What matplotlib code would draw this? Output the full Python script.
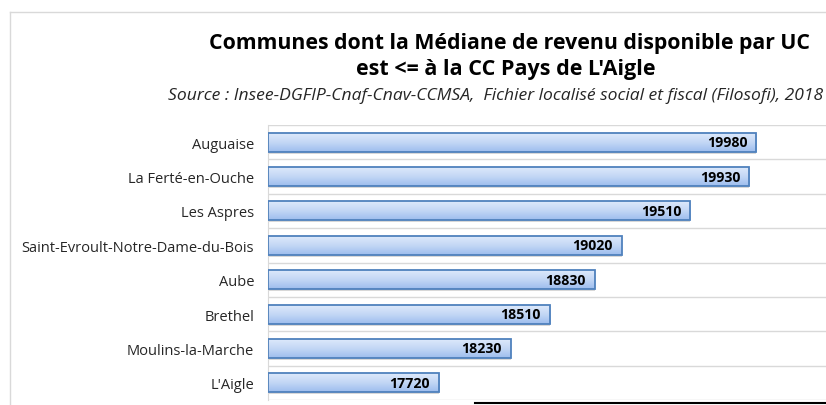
import numpy as np
import matplotlib.pyplot as plt
from matplotlib.colors import LinearSegmentedColormap

communes = ['Auguaise', 'La Ferté-en-Ouche', 'Les Aspres', 'Saint-Evroult-Notre-Dame-du-Bois',
            'Aube', 'Brethel', 'Moulins-la-Marche', "L'Aigle"]
medianes = [19980, 19930, 19510, 19020, 18830, 18510, 18230, 17720]

plt.rcParams['font.family'] = ['Open Sans', 'DejaVu Sans']

fig = plt.figure(figsize=(8.26, 4.06), dpi=100)
ax = fig.add_axes([268 / 826, 5 / 406, 1 - 268 / 826, 275 / 406])

xmin, xmax = 16500, 20477

cmap = LinearSegmentedColormap.from_list('bleu', ['#dde9fb', '#c3d7f5', '#9dbdee'])
grad = np.linspace(0, 1, 64).reshape(-1, 1)
h = 0.55

for i, (nom, val) in enumerate(zip(communes, medianes)):
    # ombre
    ax.barh(i + 0.06, val - xmin, left=xmin, height=h, color='#bfbfbf', alpha=0.6, zorder=1)
    ax.imshow(grad, cmap=cmap, aspect='auto', zorder=2,
              extent=(xmin, val, i + h / 2, i - h / 2))
    ax.barh(i, val - xmin, left=xmin, height=h, facecolor='none',
            edgecolor='#4f81bd', linewidth=1.3, zorder=3)
    ax.text(val - 65, i, str(val), ha='right', va='center', fontsize=10.2,
            fontweight='bold', color='black', zorder=4)

ax.set_xlim(xmin, xmax)
ax.set_ylim(len(communes) - 0.5, -0.5)

for y in np.arange(-0.5, len(communes), 1):
    ax.axhline(y, color='#d9d9d9', linewidth=1, zorder=0)

ax.set_yticks(range(len(communes)))
ax.set_yticklabels(communes, fontsize=10.5, color='#262626')
ax.tick_params(axis='y', length=0, pad=10)
ax.set_xticks([])
for s in ['top', 'right', 'bottom']:
    ax.spines[s].set_visible(False)
ax.spines['left'].set_color('#d9d9d9')

fig.text(0.617, 1 - 44 / 406, 'Communes dont la Médiane de revenu disponible par UC',
         ha='center', va='center', fontsize=15.3, fontweight='bold')
fig.text(0.612, 1 - 70 / 406, "est <= à la CC Pays de L'Aigle",
         ha='center', va='center', fontsize=15.5, fontweight='bold')
fig.text(823 / 826, 1 - 96 / 406,
         'Source : Insee-DGFIP-Cnaf-Cnav-CCMSA,  Fichier localisé social et fiscal (Filosofi), 2018',
         ha='right', va='center', fontsize=12.6, style='italic', color='#262626')

# cadre du graphique
fig.add_artist(plt.Line2D([10 / 826, 10 / 826], [0, 1 - 13 / 406], color='#d9d9d9', lw=1))
fig.add_artist(plt.Line2D([10 / 826, 1], [1 - 13 / 406, 1 - 13 / 406], color='#d9d9d9', lw=1))
fig.add_artist(plt.Line2D([475 / 826, 1], [2 / 406, 2 / 406], color='black', lw=1.5))

fig.savefig('out.png', dpi=100)
